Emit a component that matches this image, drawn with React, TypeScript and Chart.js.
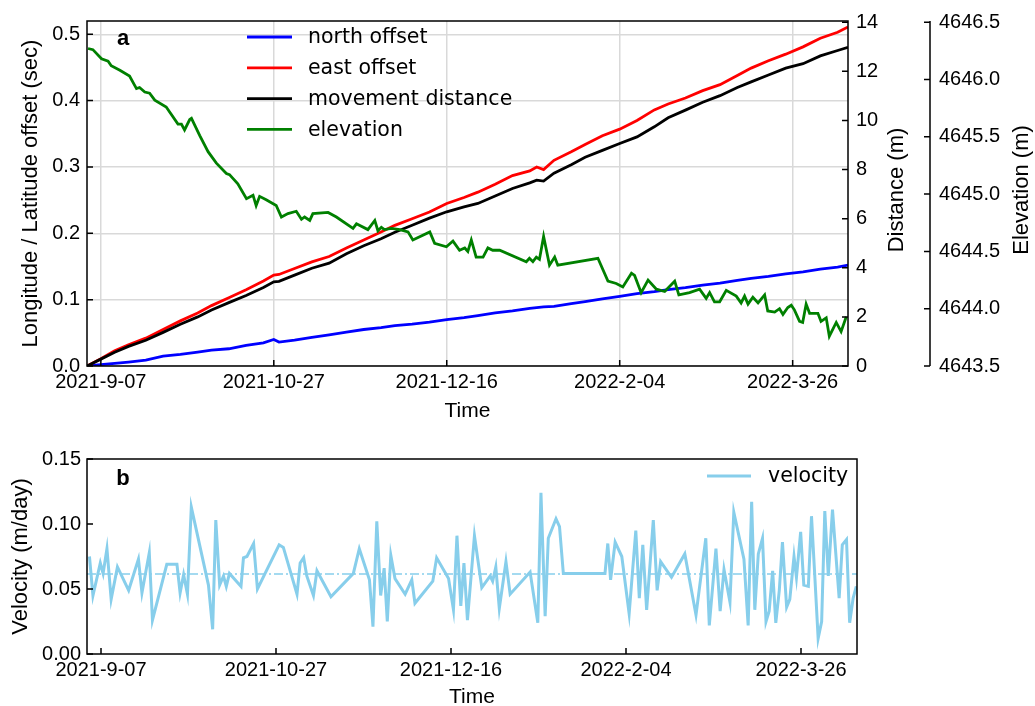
import React, { useEffect, useRef } from 'react';
import { Chart, registerables } from 'chart.js';

Chart.register(...registerables);

// ---------- data ----------
const dayTicks = [4, 54, 104, 154, 204]; // days since 2021-09-03
const dayTickLabels = ['2021-9-07', '2021-10-27', '2021-12-16', '2022-2-04', '2022-3-26'];
const dayMin = 0;
const dayMax = 220;

const offsetDays = [0, 4, 8, 12, 17, 22, 27, 32, 36, 41, 46, 51, 54, 55.5, 60, 65, 70, 75, 80, 85, 89, 94, 99, 104, 109, 113, 118, 123, 128, 130, 132, 135, 140, 144, 149, 154, 159, 164, 168, 173, 178, 183, 188, 192, 197, 202, 207, 212, 217, 220];
const northOffset = [0, 0.002, 0.004, 0.006, 0.009, 0.015, 0.0175, 0.021, 0.024, 0.026, 0.031, 0.035, 0.04, 0.036, 0.039, 0.043, 0.047, 0.051, 0.055, 0.058, 0.061, 0.063, 0.066, 0.07, 0.073, 0.076, 0.08, 0.083, 0.087, 0.088, 0.089, 0.09, 0.094, 0.097, 0.101, 0.105, 0.109, 0.112, 0.115, 0.118, 0.122, 0.125, 0.129, 0.132, 0.135, 0.139, 0.142, 0.146, 0.149, 0.152];
const eastOffset = [0, 0.011, 0.023, 0.032, 0.042, 0.055, 0.068, 0.08, 0.091, 0.103, 0.115, 0.128, 0.137, 0.138, 0.147, 0.157, 0.165, 0.178, 0.19, 0.202, 0.212, 0.222, 0.232, 0.245, 0.254, 0.262, 0.274, 0.287, 0.294, 0.3, 0.296, 0.31, 0.323, 0.334, 0.347, 0.357, 0.37, 0.386, 0.395, 0.404, 0.415, 0.424, 0.438, 0.449, 0.46, 0.47, 0.481, 0.494, 0.503, 0.511];
const movementDistance = [0, 0.28, 0.56, 0.8, 1.05, 1.37, 1.7, 2.0, 2.28, 2.58, 2.87, 3.2, 3.43, 3.45, 3.7, 3.98, 4.19, 4.57, 4.9, 5.18, 5.45, 5.73, 6.02, 6.28, 6.48, 6.62, 6.92, 7.23, 7.46, 7.57, 7.53, 7.85, 8.2, 8.5, 8.78, 9.06, 9.33, 9.74, 10.11, 10.42, 10.74, 11.01, 11.34, 11.57, 11.85, 12.13, 12.31, 12.63, 12.85, 12.98];

const elevationDays = [0.3, 1.7, 4.2, 6.1, 7.0, 9.5, 12.3, 14.3, 15.2, 16.7, 18.1, 19.6, 22.9, 26.3, 27.3, 28.2, 29.7, 30.2, 32.6, 35.0, 37.4, 40.3, 41.2, 43.6, 46.1, 48.0, 48.9, 49.9, 51.8, 54.7, 56.2, 58.1, 60.5, 62.0, 62.9, 64.4, 65.3, 69.7, 72.1, 76.9, 77.9, 81.2, 83.2, 84.1, 85.1, 86.0, 88.0, 90.4, 92.8, 94.2, 99.1, 100.5, 103.9, 105.8, 107.7, 109.2, 110.1, 111.1, 112.5, 114.5, 115.9, 117.3, 119.3, 127.0, 127.9, 128.9, 129.9, 130.8, 132.0, 133.7, 135.2, 136.1, 147.7, 150.6, 153.0, 154.9, 157.4, 158.3, 160.2, 162.2, 164.6, 167.0, 169.9, 171.1, 174.2, 177.1, 179.0, 180.0, 181.4, 182.9, 184.8, 187.7, 189.1, 190.1, 191.1, 192.5, 194.0, 195.9, 196.8, 198.8, 200.2, 201.2, 202.6, 203.6, 204.5, 206.0, 206.9, 207.9, 208.9, 211.3, 212.2, 213.7, 214.6, 216.6, 218.0, 219.5];
const elevation = [4646.27, 4646.26, 4646.18, 4646.16, 4646.12, 4646.08, 4646.03, 4645.92, 4645.93, 4645.89, 4645.88, 4645.82, 4645.76, 4645.61, 4645.61, 4645.56, 4645.65, 4645.66, 4645.51, 4645.37, 4645.27, 4645.18, 4645.17, 4645.09, 4644.96, 4644.99, 4644.9, 4644.98, 4644.95, 4644.9, 4644.8, 4644.83, 4644.85, 4644.78, 4644.8, 4644.77, 4644.83, 4644.84, 4644.8, 4644.7, 4644.74, 4644.69, 4644.77, 4644.68, 4644.71, 4644.69, 4644.7, 4644.69, 4644.67, 4644.6, 4644.67, 4644.57, 4644.54, 4644.59, 4644.51, 4644.53, 4644.5, 4644.6, 4644.45, 4644.45, 4644.53, 4644.51, 4644.51, 4644.41, 4644.44, 4644.41, 4644.45, 4644.43, 4644.63, 4644.38, 4644.45, 4644.38, 4644.44, 4644.24, 4644.22, 4644.19, 4644.31, 4644.29, 4644.14, 4644.25, 4644.17, 4644.15, 4644.24, 4644.12, 4644.14, 4644.17, 4644.09, 4644.14, 4644.06, 4644.06, 4644.16, 4644.11, 4644.05, 4644.11, 4644.04, 4644.1, 4644.05, 4644.12, 4643.98, 4643.97, 4644.0, 4643.95, 4644.01, 4644.03, 4643.99, 4643.89, 4643.88, 4644.04, 4643.96, 4643.96, 4643.89, 4643.92, 4643.76, 4643.88, 4643.8, 4643.93];

const velocityDays = [0.7, 1.7, 3.8, 4.6, 5.7, 6.9, 8.7, 11.9, 14.7, 15.7, 17.8, 18.7, 22.8, 25.7, 26.6, 27.6, 28.7, 29.8, 34.7, 35.9, 36.8, 37.9, 39.0, 39.8, 40.7, 44.0, 44.7, 45.7, 47.6, 48.7, 54.9, 56.1, 60.0, 60.9, 61.9, 62.8, 64.7, 65.7, 69.7, 76.1, 77.8, 80.7, 81.7, 82.8, 83.9, 84.9, 85.8, 86.8, 88.0, 90.9, 92.8, 93.7, 98.8, 99.9, 103.3, 104.7, 105.7, 106.8, 107.7, 108.7, 110.7, 112.8, 115.2, 115.9, 116.8, 117.8, 119.7, 120.9, 126.6, 128.8, 129.7, 130.9, 131.8, 134.0, 135.0, 136.1, 148.0, 148.8, 149.6, 150.9, 152.8, 154.9, 156.8, 157.8, 158.8, 159.9, 161.8, 162.9, 163.9, 167.0, 170.8, 174.0, 176.8, 177.8, 179.7, 180.9, 182.0, 183.7, 184.8, 187.7, 188.9, 189.9, 190.8, 191.8, 193.0, 194.0, 194.9, 195.9, 196.8, 197.8, 198.7, 199.9, 200.8, 202.0, 202.7, 203.9, 204.8, 206.1, 207.0, 208.0, 208.9, 209.9, 210.8, 211.8, 213.0, 214.9, 215.8, 217.0, 217.9, 218.9, 219.8];
const velocity = [0.075, 0.045, 0.07, 0.062, 0.081, 0.042, 0.067, 0.049, 0.073, 0.047, 0.078, 0.026, 0.069, 0.069, 0.047, 0.061, 0.046, 0.113, 0.053, 0.019, 0.103, 0.053, 0.06, 0.052, 0.062, 0.052, 0.074, 0.075, 0.085, 0.05, 0.084, 0.082, 0.046, 0.07, 0.074, 0.06, 0.045, 0.064, 0.044, 0.062, 0.081, 0.057, 0.021, 0.102, 0.045, 0.066, 0.025, 0.076, 0.058, 0.046, 0.057, 0.039, 0.056, 0.074, 0.058, 0.034, 0.091, 0.037, 0.07, 0.026, 0.091, 0.051, 0.06, 0.056, 0.067, 0.035, 0.071, 0.046, 0.063, 0.024, 0.124, 0.029, 0.089, 0.104, 0.098, 0.062, 0.062, 0.085, 0.057, 0.086, 0.075, 0.031, 0.095, 0.043, 0.084, 0.034, 0.103, 0.049, 0.071, 0.059, 0.077, 0.03, 0.089, 0.022, 0.081, 0.033, 0.065, 0.04, 0.109, 0.073, 0.022, 0.117, 0.034, 0.077, 0.089, 0.025, 0.033, 0.064, 0.024, 0.049, 0.086, 0.036, 0.042, 0.075, 0.059, 0.094, 0.053, 0.052, 0.106, 0.057, 0.012, 0.025, 0.11, 0.06, 0.111, 0.043, 0.084, 0.088, 0.024, 0.043, 0.052];
const velocityMean = 0.0615;

const offsetTicks = [0, 0.1, 0.2, 0.3, 0.4, 0.5];
const distanceTicks = [0, 2, 4, 6, 8, 10, 12, 14];
const elevationTicks = [4643.5, 4644.0, 4644.5, 4645.0, 4645.5, 4646.0, 4646.5];
const velocityTicks = [0, 0.05, 0.1, 0.15];

const SANS = "'Liberation Sans', Arial, sans-serif";
const DEJAVU = "'DejaVu Sans', sans-serif";
const GRID = '#d9d9d9';

// ---------- plugin: frame, inward ticks, legend, extra texts ----------
const decor = {
  id: 'decor',
  afterDatasetsDraw(chart: any, _args: any, opts: any) {
    const { ctx, chartArea: ca } = chart;
    ctx.save();
    ctx.strokeStyle = '#000';
    ctx.lineWidth = 1.5;
    ctx.strokeRect(ca.left, ca.top, ca.right - ca.left, ca.bottom - ca.top);
    const L = 6;
    for (const spec of opts.ticks || []) {
      const s = chart.scales[spec.id];
      ctx.beginPath();
      for (const t of s.ticks) {
        const p = s.getPixelForValue(t.value);
        if (spec.side === 'bottom') { ctx.moveTo(p, ca.bottom); ctx.lineTo(p, ca.bottom - L); }
        else if (spec.side === 'left') { ctx.moveTo(ca.left, p); ctx.lineTo(ca.left + L, p); }
        else if (spec.side === 'right') { ctx.moveTo(ca.right, p); ctx.lineTo(ca.right - L, p); }
        else if (spec.side === 'spine') { ctx.moveTo(s.left, p); ctx.lineTo(s.left - L, p); }
      }
      if (spec.side === 'spine') { ctx.moveTo(s.left, ca.top); ctx.lineTo(s.left, ca.bottom); }
      ctx.stroke();
    }
    // legend
    const lg = opts.legend;
    if (lg) {
      ctx.font = `${lg.size}px ${DEJAVU}`;
      ctx.textBaseline = 'middle';
      ctx.textAlign = 'left';
      let y = lg.y;
      chart.data.datasets.forEach((ds: any) => {
        if (!ds.label) return;
        ctx.strokeStyle = ds.borderColor;
        ctx.lineWidth = 2.8;
        ctx.setLineDash([]);
        ctx.beginPath();
        ctx.moveTo(lg.x, y);
        ctx.lineTo(lg.x + lg.len, y);
        ctx.stroke();
        ctx.fillStyle = '#000';
        ctx.fillText(ds.label, lg.x + lg.len + lg.gap, y + 1);
        y += lg.step;
      });
    }
    // texts
    for (const t of opts.texts || []) {
      ctx.save();
      ctx.fillStyle = '#000';
      ctx.font = t.font;
      ctx.textAlign = 'center';
      ctx.textBaseline = 'middle';
      ctx.translate(t.x, t.y);
      if (t.rot) ctx.rotate(t.rot);
      ctx.fillText(t.text, 0, 0);
      ctx.restore();
    }
    ctx.restore();
  },
};

const fixedTicks = (vals: number[]) => (s: any) => {
  s.ticks = vals.map((v) => ({ value: v }));
};

function xScale(titleFont: any, titlePad: any, height: number) {
  return {
    type: 'linear',
    position: 'bottom',
    min: dayMin,
    max: dayMax,
    afterBuildTicks: fixedTicks(dayTicks),
    ticks: {
      callback: (v: number) => dayTickLabels[dayTicks.indexOf(v)],
      autoSkip: false,
      maxRotation: 0,
      minRotation: 0,
      padding: 4,
      color: '#000',
      font: { family: SANS, size: 20 },
    },
    border: { display: false },
    title: { display: true, text: 'Time', color: '#000', font: titleFont, padding: titlePad },
    afterFit: (s: any) => { s.height = height; },
  };
}

function TopChart() {
  const ref = useRef<HTMLCanvasElement>(null);
  useEffect(() => {
    const pts = (xs: number[], ys: number[]) => xs.map((x, i) => ({ x, y: ys[i] }));
    const chart = new Chart(ref.current as HTMLCanvasElement, {
      type: 'line',
      data: {
        datasets: [
          { label: 'north offset', data: pts(offsetDays, northOffset), borderColor: '#0000ff', yAxisID: 'y', order: 4 },
          { label: 'east offset', data: pts(offsetDays, eastOffset), borderColor: '#ff0000', yAxisID: 'y', order: 3 },
          { label: 'movement distance', data: pts(offsetDays, movementDistance), borderColor: '#000000', yAxisID: 'yDist', order: 2 },
          { label: 'elevation', data: pts(elevationDays, elevation), borderColor: '#008000', yAxisID: 'yElev', order: 1 },
        ] as any,
      },
      options: {
        animation: false,
        responsive: false,
        devicePixelRatio: 1,
        events: [],
        layout: { padding: { top: 20, left: 0, right: 0, bottom: 0 } },
        elements: { point: { radius: 0 }, line: { borderWidth: 2.8, tension: 0 } },
        plugins: {
          legend: { display: false },
          tooltip: { enabled: false },
          decor: {
            ticks: [
              { id: 'x', side: 'bottom' },
              { id: 'y', side: 'left' },
              { id: 'yDist', side: 'right' },
              { id: 'yElev', side: 'spine' },
            ],
            legend: { x: 247, y: 37, len: 45, gap: 16, step: 30.8, size: 20.5 },
            texts: [
              { text: 'a', x: 123, y: 39, font: `bold 22px ${SANS}` },
              { text: 'Distance (m)', x: 897, y: 190, rot: -Math.PI / 2, font: `22px ${SANS}` },
              { text: 'Elevation (m)', x: 1022, y: 190, rot: -Math.PI / 2, font: `22px ${SANS}` },
            ],
          },
        } as any,
        scales: {
          x: {
            ...xScale({ family: SANS, size: 21 }, { top: 0, bottom: 6 }, 64),
            grid: { color: GRID, lineWidth: 1.5, drawTicks: false },
          },
          y: {
            position: 'left',
            min: 0,
            max: 0.52,
            afterBuildTicks: fixedTicks(offsetTicks),
            ticks: { callback: (v: number) => v.toFixed(1), padding: 7, color: '#000', font: { family: SANS, size: 20 } },
            grid: { color: GRID, lineWidth: 1.5, drawTicks: false },
            border: { display: false },
            title: { display: true, text: 'Longitude / Latitude offset (sec)', color: '#000', font: { family: SANS, size: 22 }, padding: { top: 18, bottom: 0 } },
            afterFit: (s: any) => { s.width = 87; },
          },
          yDist: {
            position: 'right',
            weight: 0,
            min: 0,
            max: 14.05,
            afterBuildTicks: fixedTicks(distanceTicks),
            ticks: { callback: (v: number) => String(v), padding: 8, color: '#000', font: { family: SANS, size: 20 } },
            grid: { display: false, drawTicks: false },
            border: { display: false },
            afterFit: (s: any) => { s.width = 82; },
          },
          yElev: {
            position: 'right',
            weight: 1,
            min: 4643.5,
            max: 4646.51,
            afterBuildTicks: fixedTicks(elevationTicks),
            ticks: { callback: (v: number) => v.toFixed(1), padding: 9, color: '#000', font: { family: SANS, size: 20 } },
            grid: { display: false, drawTicks: false },
            border: { display: false },
            afterFit: (s: any) => { s.width = 105; },
          },
        } as any,
      },
      plugins: [decor],
    });
    return () => chart.destroy();
  }, []);
  return <canvas ref={ref} width={1035} height={430} style={{ position: 'absolute', left: 0, top: 0 }} />;
}

function BottomChart() {
  const ref = useRef<HTMLCanvasElement>(null);
  useEffect(() => {
    const chart = new Chart(ref.current as HTMLCanvasElement, {
      type: 'line',
      data: {
        datasets: [
          { label: 'velocity', data: velocityDays.map((x, i) => ({ x, y: velocity[i] })), borderColor: '#87ceeb', borderWidth: 3, order: 1 },
          { label: '', data: [{ x: dayMin, y: velocityMean }, { x: dayMax, y: velocityMean }], borderColor: '#87ceeb', borderWidth: 1.6, borderDash: [9, 3, 2, 3], order: 2 },
        ] as any,
      },
      options: {
        animation: false,
        responsive: false,
        devicePixelRatio: 1,
        events: [],
        layout: { padding: { top: 29, left: 0, right: 178, bottom: 0 } },
        elements: { point: { radius: 0 }, line: { tension: 0 } },
        plugins: {
          legend: { display: false },
          tooltip: { enabled: false },
          decor: {
            ticks: [
              { id: 'x', side: 'bottom' },
              { id: 'y', side: 'left' },
            ],
            legend: { x: 707, y: 46, len: 44, gap: 17, step: 31, size: 20.5 },
            texts: [{ text: 'b', x: 123, y: 49, font: `bold 22px ${SANS}` }],
          },
        } as any,
        scales: {
          x: {
            ...xScale({ family: SANS, size: 21, lineHeight: 0.8 }, { top: 0, bottom: 0 }, 52),
            grid: { display: false, drawTicks: false },
          },
          y: {
            position: 'left',
            min: 0,
            max: 0.15,
            afterBuildTicks: fixedTicks(velocityTicks),
            ticks: { callback: (v: number) => v.toFixed(2), padding: 6, color: '#000', font: { family: SANS, size: 20 } },
            grid: { display: false, drawTicks: false },
            border: { display: false },
            title: { display: true, text: 'Velocity (m/day)', color: '#000', font: { family: SANS, size: 22 }, padding: { top: 8, bottom: 0 } },
            afterFit: (s: any) => { s.width = 87; },
          },
        } as any,
      },
      plugins: [decor],
    });
    return () => chart.destroy();
  }, []);
  return <canvas ref={ref} width={1035} height={276} style={{ position: 'absolute', left: 0, top: 430 }} />;
}

export default function App() {
  return (
    <div style={{ position: 'absolute', left: 0, top: 0, width: 1035, height: 706, background: '#fff', overflow: 'hidden' }}>
      <TopChart />
      <BottomChart />
    </div>
  );
}
